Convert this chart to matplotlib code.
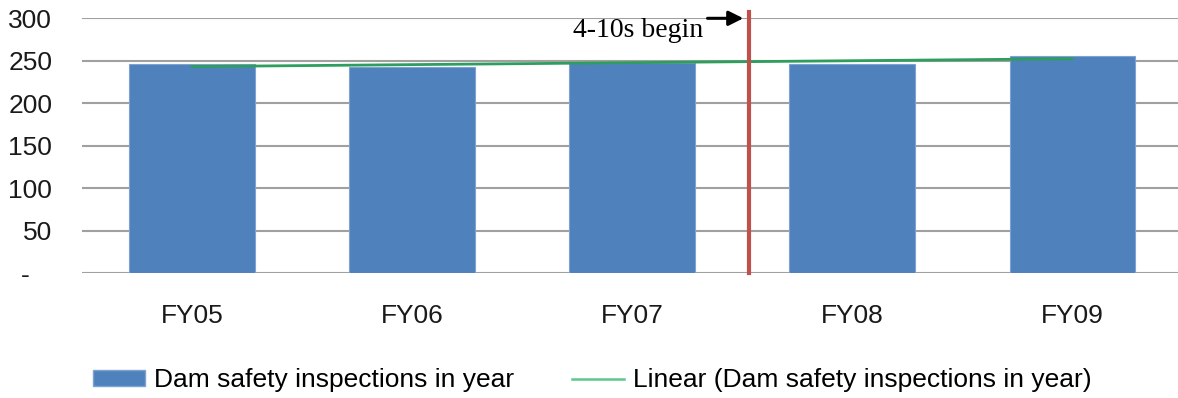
import matplotlib
matplotlib.use("Agg")
import matplotlib.pyplot as plt
from matplotlib.patches import Patch
from matplotlib.lines import Line2D
import numpy as np

# inspections per fiscal year
years = ['FY05', 'FY06', 'FY07', 'FY08', 'FY09']
inspections = [246, 243, 248, 246, 256]
y_ticks = [0, 50, 100, 150, 200, 250, 300]
y_tick_labels = ['-   ', '50', '100', '150', '200', '250', '300']
policy_x = 2.53  # when the 4-10s schedule started

BAR_COLOR = '#4F81BD'
TREND_COLOR = '#2E9E5E'
RED = '#C0504D'

plt.rcParams['font.family'] = ['Liberation Sans', 'DejaVu Sans']

fig = plt.figure(figsize=(11.78, 3.98), dpi=100)
ax = fig.add_axes([0.0696, 0.3133, 0.934, 0.6407])

x = np.arange(len(years))
ax.bar(x, inspections, width=0.57, color=BAR_COLOR, edgecolor='#7FA3D0', linewidth=0.8, zorder=2)

# linear trend through the yearly counts
slope, intercept = np.polyfit(x, inspections, 1)
ax.plot(x, slope * x + intercept, color=TREND_COLOR, lw=2, zorder=3)

ax.set_xlim(-0.5, len(years) - 0.5)
ax.set_ylim(0, 300)
ax.set_yticks(y_ticks)
ax.set_yticklabels(y_tick_labels)
ax.set_xticks(x)
ax.set_xticklabels(years)
ax.tick_params(axis='both', length=0, labelsize=19, colors='#1a1a1a')
ax.tick_params(axis='y', pad=21.5)
ax.tick_params(axis='x', pad=22)
ax.grid(axis='y', color='#A0A0A0', lw=1.5, zorder=0)
ax.set_axisbelow(True)
for s in ax.spines.values():
    s.set_visible(False)

# start of the 4-10s schedule
ax.plot([policy_x, policy_x], [0, 307.5], color=RED, lw=3, clip_on=False, zorder=4)
ax.annotate('', xy=(policy_x - 0.012, 300), xytext=(2.33, 300),
            arrowprops=dict(arrowstyle='-|>', color='black', lw=2.2, mutation_scale=22),
            annotation_clip=False, zorder=5)
ax.text(2.027, 286, '4-10s begin', ha='center', va='center', fontsize=20,
        family=['Liberation Serif', 'DejaVu Serif'], color='black', zorder=5)

handles = [Patch(facecolor=BAR_COLOR, edgecolor='#7FA3D0'),
           Line2D([], [], color='#5CC98A', lw=1.8)]
labels = ['Dam safety inspections in year', 'Linear (Dam safety inspections in year)']
fig.legend(handles, labels, loc='center left', bbox_to_anchor=(0.079, 0.045), ncol=2,
           frameon=False, prop={'size': 19}, borderpad=0, borderaxespad=0,
           handlelength=1.97, handleheight=0.53, handletextpad=0.34, columnspacing=2.2)

fig.savefig('out.png', dpi=100)
